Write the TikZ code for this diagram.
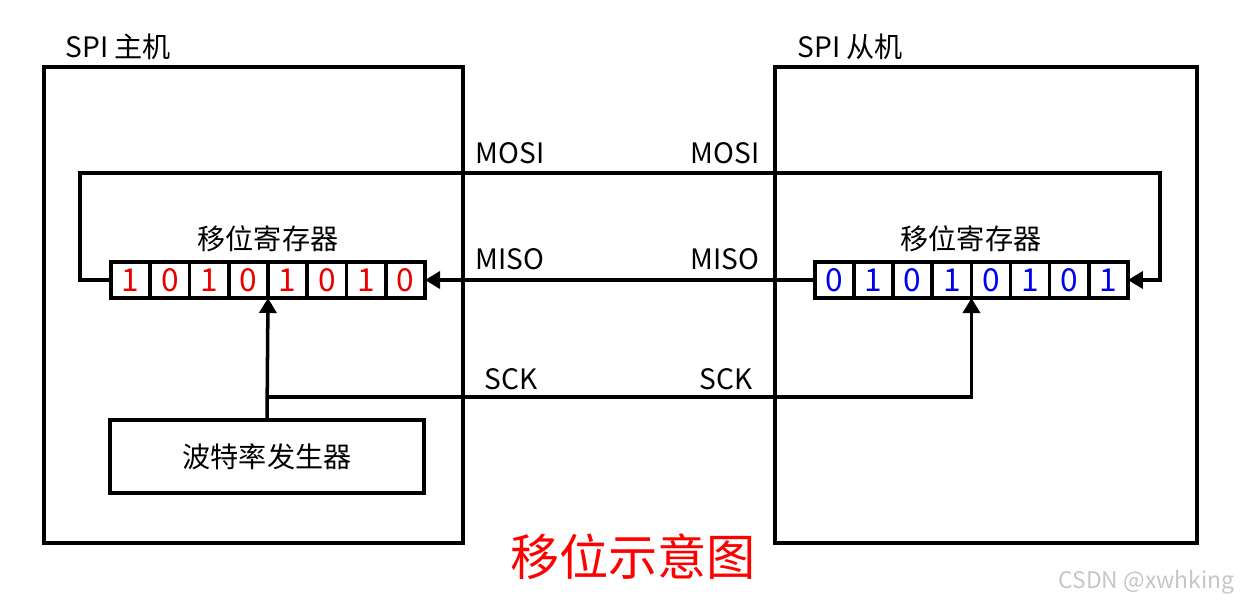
\documentclass[tikz,border=0pt]{standalone}
\usepackage{fontspec}
\setmainfont{Noto Sans CJK SC}
\usetikzlibrary{arrows.meta}
\definecolor{bitred}{RGB}{235,0,0}
\definecolor{bitblue}{RGB}{0,0,235}

\begin{document}
\begin{tikzpicture}[x=0.02cm, y=-0.02cm, line width=2pt,
  cell/.style={draw, minimum width=0.785cm, minimum height=0.72cm, inner sep=0pt, outer sep=0pt, font=\fontsize{18}{18}\selectfont},
  lbl/.style={font=\fontsize{16}{16}\selectfont},
  sig/.style={-{Triangle[length=0.3cm,width=0.34cm]}}]
\useasboundingbox (0,0) rectangle (1246,602);
% master and slave devices
\node[draw, minimum width=8.38cm, minimum height=9.52cm] (master) at (253.5,305) {};
\node[draw, minimum width=8.44cm, minimum height=9.52cm] (slave) at (986,305) {};
\node[lbl, anchor=west] (mname) at (58,47) {SPI 主机};
\node[lbl, anchor=west] (sname) at (790,47) {SPI 从机};
% shift registers
\foreach \b [count=\i] in {1,0,1,0,1,0,1,0}
  \node[cell, text=bitred] (m\i) at ({111+39.25*(\i-0.5)},280) {\b};
\foreach \b [count=\i] in {0,1,0,1,0,1,0,1}
  \node[cell, text=bitblue] (s\i) at ({815+39.1*(\i-0.5)},280) {\b};
\node[lbl] (mreg) at (268,239) {移位寄存器};
\node[lbl] (sreg) at (971,239) {移位寄存器};
\node[draw, minimum width=6.28cm, minimum height=1.46cm, lbl] (baud) at (267,456.5) {波特率发生器};
% signal lines
\coordinate (mosiL) at (80,173);
\coordinate (mosiR) at (1160,173);
\coordinate (sck) at (268,397);
\draw[sig] (m1.west) -| (mosiL) -- (mosiR) |- (s8.east);
\draw[sig] (s1.west) -- (m8.east);
\draw[sig] (baud.north) -- (m4.south east);
\draw[sig] (sck) -| (s4.south east);
\node[lbl] (mosi1) at (510,153) {MOSI};
\node[lbl] (mosi2) at (725,153) {MOSI};
\node[lbl] (miso1) at (510,259) {MISO};
\node[lbl] (miso2) at (725,259) {MISO};
\node[lbl] (sck1) at (511,379) {SCK};
\node[lbl] (sck2) at (726,379) {SCK};
\node[text=red, font=\fontsize{28}{28}\selectfont] (title) at (633,557) {移位示意图};
\node[text=gray!45, font=\fontsize{13}{13}\selectfont, anchor=east] (mark) at (1242,582) {CSDN @xwhking};
\end{tikzpicture}
\end{document}
